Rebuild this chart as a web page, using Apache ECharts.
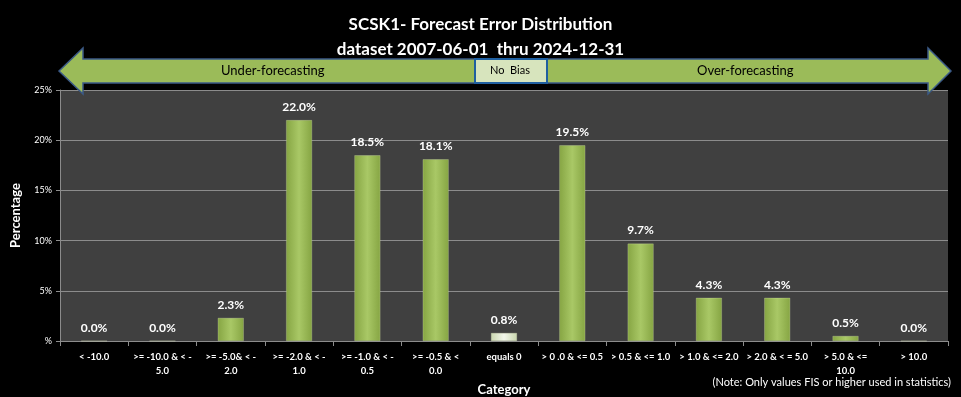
<!DOCTYPE html>
<html><head><meta charset="utf-8">
<script src="https://cdn.jsdelivr.net/npm/echarts@6/dist/echarts.min.js"></script>
<style>html,body{margin:0;padding:0;background:#000;}#c{width:961px;height:397px;}</style>
</head><body><div id="c"></div>
<script>
const categories = ["< -10.0", ">= -10.0 & < -\n5.0", ">= -5.0& < -\n2.0", ">= -2.0 & < -\n1.0", ">= -1.0 & < -\n0.5", ">= -0.5 & <\n0.0", "equals 0", "> 0 .0 & <= 0.5", "> 0.5 & <= 1.0", "> 1.0 & <= 2.0", "> 2.0 & < = 5.0", "> 5.0 & <=\n10.0", "> 10.0"];
const values = [0.0, 0.0, 2.3, 22.0, 18.5, 18.1, 0.8, 19.5, 9.7, 4.3, 4.3, 0.5, 0.0];
const yTicks = [0, 5, 10, 15, 20, 25];
const titleLines = ["SCSK1- Forecast Error Distribution", "dataset 2007-06-01  thru 2024-12-31"];

const F = "Lato, 'Open Sans', sans-serif";
const green = {type:'linear',x:0,y:0,x2:1,y2:0,colorStops:[{offset:0,color:'#86a543'},{offset:0.5,color:'#a9c866'},{offset:1,color:'#86a543'}]};
const pale = {type:'linear',x:0,y:0,x2:1,y2:0,colorStops:[{offset:0,color:'#c9d6ae'},{offset:0.5,color:'#f2f6ea'},{offset:1,color:'#c9d6ae'}]};

const chart = echarts.init(document.getElementById('c'));
const arrowStroke = '#3b5a86';
chart.setOption({
  backgroundColor:'#000',
  animation:false,
  title:[
    {text:titleLines[0], left:'center', top:11, textStyle:{color:'#fff', fontFamily:F, fontWeight:'bold', fontSize:17}},
    {text:titleLines[1], left:'center', top:36, textStyle:{color:'#fff', fontFamily:F, fontWeight:'bold', fontSize:17}}
  ],
  graphic:[
    {type:'polygon', z:10, shape:{points:[[59,71],[83,48],[83,59],[475,59],[475,83],[83,83],[83,94],]}, style:{fill:'#9bbb59', stroke:arrowStroke, lineWidth:1.5}},
    {type:'polygon', z:10, shape:{points:[[951,71],[928,48],[928,59],[547,59],[547,83],[928,83],[928,94]]}, style:{fill:'#9bbb59', stroke:arrowStroke, lineWidth:1.5}},
    {type:'rect', z:11, shape:{x:475,y:59,width:72,height:24}, style:{fill:'#d7e4bd', stroke:'#1f5fa0', lineWidth:2}},
    {type:'text', z:12, left:221, top:64, style:{text:'Under-forecasting', fill:'#000', font:'13px '+F}},
    {type:'text', z:12, left:490, top:65, style:{text:'No  Bias', fill:'#000', font:'11px '+F}},
    {type:'text', z:12, left:697, top:64, style:{text:'Over-forecasting', fill:'#000', font:'13px '+F}},
    {type:'text', right:10, top:377, style:{text:'(Note: Only values FIS or higher used in statistics)', fill:'#fff', font:'11px '+F}}
  ],
  grid:{left:60, right:13, top:90, bottom:56, outerBoundsMode:'none', containLabel:false, show:true, backgroundColor:'#404040', borderWidth:0},
  xAxis:{type:'category', data:categories, name:'Category', nameLocation:'middle', nameGap:37,
    nameTextStyle:{color:'#fff', fontFamily:F, fontWeight:'bold', fontSize:13},
    axisLine:{lineStyle:{color:'#8c8c8c'}}, axisTick:{show:true, alignWithLabel:false, length:5, lineStyle:{color:'#8c8c8c'}},
    axisLabel:{color:'#fff', fontFamily:F, fontWeight:'bold', fontSize:9.5, interval:0, lineHeight:14, margin:9}},
  yAxis:{type:'value', min:0, max:25, interval:5, name:'Percentage', nameLocation:'middle', nameGap:38, nameRotate:90,
    nameTextStyle:{color:'#fff', fontFamily:F, fontWeight:'bold', fontSize:13},
    axisLine:{show:true, lineStyle:{color:'#8c8c8c'}}, axisTick:{show:true, length:4, lineStyle:{color:'#8c8c8c'}},
    splitLine:{lineStyle:{color:'#8c8c8c', width:1}},
    axisLabel:{color:'#fff', fontFamily:F, fontSize:9, margin:8, formatter:v=> v===0 ? '%' : v+'%'}},
  series:[{type:'bar', barWidth:'38%',
    data: values.map((v,i)=>({value:v, itemStyle:{color: categories[i]==='equals 0' ? pale : green}})),
    itemStyle:{borderColor:'rgba(230,240,200,0.5)', borderWidth:0.5},
    label:{show:true, position:'top', distance:7, color:'#fff', fontFamily:F, fontWeight:'bold', fontSize:12, formatter:p=>p.value.toFixed(1)+'%'}
  }]
});
</script></body></html>
